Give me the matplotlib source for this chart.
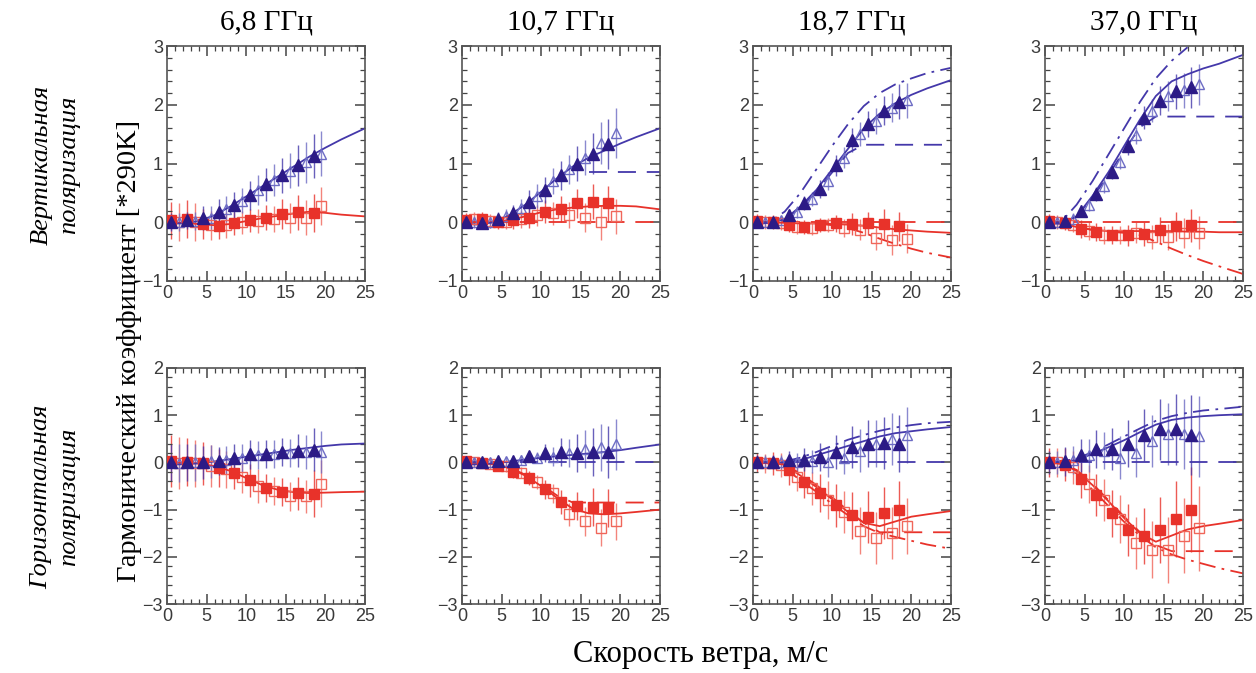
import numpy as np
import matplotlib
matplotlib.use("Agg")
import matplotlib.pyplot as plt
from matplotlib.ticker import MultipleLocator

# wind speed grids
wind_fill = [0.5, 2.5, 4.5, 6.5, 8.5, 10.5, 12.5, 14.5, 16.5, 18.5]
wind_open = [1.5, 3.5, 5.5, 7.5, 9.5, 11.5, 13.5, 15.5, 17.5, 19.5]
wind_fit = [0, 2, 4, 6, 8, 10, 12, 14, 16, 18, 20, 22, 25]
nan = np.nan

freqs = ["6,8 ГГц", "10,7 ГГц", "18,7 ГГц", "37,0 ГГц"]
row_labels = ["Вертикальная\nполяризация", "Горизонтальная\nполяризация"]

# ---- vertical polarisation ----
v68_tri = [0.0, 0.03, 0.07, 0.17, 0.30, 0.46, 0.65, 0.80, 0.97, 1.13]
v68_tri_open = [0.0, 0.02, 0.08, 0.22, 0.37, 0.55, 0.72, 0.88, 1.02, 1.17]
v68_sq = [0.03, 0.06, -0.03, -0.06, -0.02, 0.03, 0.08, 0.14, 0.17, 0.16]
v68_sq_open = [0.0, 0.0, -0.05, -0.05, 0.0, 0.02, 0.05, 0.07, 0.08, 0.28]
v68_tri_err = [0.15, 0.15, 0.2, 0.22, 0.22, 0.25, 0.28, 0.3, 0.35, 0.38]
v68_sq_err = [0.32, 0.32, 0.25, 0.22, 0.2, 0.2, 0.22, 0.25, 0.3, 0.32]
v68_blue_fit = [-0.02, -0.02, 0.02, 0.12, 0.27, 0.44, 0.61, 0.78, 0.95, 1.12, 1.27, 1.41, 1.6]
v68_red_fit = [0.0, -0.01, -0.03, -0.05, -0.03, 0.02, 0.07, 0.11, 0.15, 0.18, 0.16, 0.13, 0.1]

v107_tri = [0.0, -0.02, 0.05, 0.15, 0.35, 0.55, 0.8, 1.0, 1.17, 1.33]
v107_tri_open = [0.0, 0.0, 0.1, 0.25, 0.45, 0.7, 0.9, 1.1, 1.35, 1.52]
v107_sq = [0.03, 0.05, 0.0, 0.03, 0.08, 0.18, 0.22, 0.32, 0.35, 0.32]
v107_sq_open = [0.05, 0.02, 0.0, 0.05, 0.12, 0.15, 0.13, 0.08, 0.0, 0.1]
v107_tri_err = [0.1, 0.1, 0.12, 0.15, 0.2, 0.22, 0.25, 0.3, 0.35, 0.42]
v107_sq_err = [0.12, 0.12, 0.12, 0.15, 0.18, 0.2, 0.22, 0.25, 0.3, 0.3]
v107_blue_fit = [-0.02, -0.04, 0.0, 0.12, 0.3, 0.52, 0.75, 0.95, 1.1, 1.22, 1.34, 1.45, 1.6]
v107_blue_sat = [nan, nan, nan, nan, nan, nan, nan, nan, 0.85, 0.85, 0.85, 0.85, 0.85]
v107_red_fit = [0.0, 0.0, 0.0, 0.04, 0.1, 0.17, 0.22, 0.25, 0.27, 0.28, 0.28, 0.27, 0.22]
v107_red_sat = [0, 0, 0, 0, 0, 0, 0, 0, 0, 0, 0, 0, 0]

v187_tri = [0.0, 0.0, 0.12, 0.33, 0.57, 0.97, 1.4, 1.67, 1.9, 2.05]
v187_tri_open = [0.0, 0.03, 0.18, 0.4, 0.7, 1.1, 1.5, 1.72, 1.95, 2.08]
v187_sq = [0.02, 0.0, -0.05, -0.08, -0.05, -0.02, -0.03, -0.02, -0.03, -0.07]
v187_sq_open = [0.0, -0.02, -0.08, -0.1, -0.05, -0.1, -0.13, -0.27, -0.3, -0.28]
v187_tri_err = [0.08, 0.08, 0.1, 0.12, 0.15, 0.18, 0.2, 0.22, 0.25, 0.3]
v187_sq_err = [0.12, 0.12, 0.12, 0.12, 0.12, 0.15, 0.18, 0.2, 0.25, 0.25]
v187_blue_fit = [-0.03, -0.01, 0.05, 0.27, 0.55, 0.9, 1.25, 1.6, 1.85, 2.03, 2.17, 2.28, 2.42]
v187_blue_alt = [0.0, 0.0, 0.18, 0.5, 0.9, 1.3, 1.67, 1.98, 2.2, 2.35, 2.45, 2.54, 2.63]
v187_blue_sat = [-0.03, -0.01, 0.05, 0.25, 0.52, 0.85, 1.18, 1.32, 1.32, 1.32, 1.32, 1.32, 1.32]
v187_red_fit = [0.0, 0.0, -0.01, -0.02, -0.02, -0.03, -0.04, -0.06, -0.09, -0.12, -0.14, -0.16, -0.18]
v187_red_alt = [0.0, 0.0, -0.01, -0.01, -0.02, -0.05, -0.1, -0.18, -0.28, -0.37, -0.45, -0.52, -0.6]
v187_red_sat = [0, 0, 0, 0, 0, 0, 0, 0, 0, 0, 0, 0, 0]

v37_tri = [0.0, 0.02, 0.2, 0.48, 0.85, 1.3, 1.78, 2.07, 2.23, 2.3]
v37_tri_open = [0.0, 0.05, 0.3, 0.62, 1.02, 1.48, 1.9, 2.15, 2.25, 2.35]
v37_sq = [0.02, -0.02, -0.12, -0.17, -0.22, -0.22, -0.2, -0.13, -0.07, -0.05]
v37_sq_open = [0.0, -0.05, -0.15, -0.22, -0.22, -0.18, -0.25, -0.25, -0.18, -0.18]
v37_tri_err = [0.1, 0.1, 0.1, 0.12, 0.12, 0.15, 0.2, 0.25, 0.3, 0.35]
v37_sq_err = [0.12, 0.12, 0.15, 0.15, 0.15, 0.18, 0.2, 0.22, 0.25, 0.28]
v37_blue_fit = [-0.02, -0.02, 0.1, 0.45, 0.85, 1.3, 1.75, 2.15, 2.4, 2.52, 2.62, 2.7, 2.85]
v37_blue_alt = [0.0, 0.0, 0.3, 0.7, 1.15, 1.6, 2.05, 2.45, 2.75, 2.98, nan, nan, nan]
v37_blue_sat = [-0.02, -0.02, 0.1, 0.42, 0.8, 1.22, 1.62, 1.8, 1.8, 1.8, 1.8, 1.8, 1.8]
v37_red_fit = [0.0, -0.02, -0.08, -0.13, -0.15, -0.15, -0.15, -0.15, -0.15, -0.16, -0.16, -0.17, -0.17]
v37_red_alt = [0.0, -0.02, -0.08, -0.13, -0.16, -0.18, -0.22, -0.33, -0.45, -0.56, -0.66, -0.75, -0.88]
v37_red_sat = [0, 0, 0, 0, 0, 0, 0, 0, 0, 0, 0, 0, 0]

# ---- horizontal polarisation ----
h68_tri = [0.0, 0.0, 0.0, 0.03, 0.1, 0.17, 0.18, 0.22, 0.25, 0.27]
h68_tri_open = [-0.02, 0.0, 0.02, 0.05, 0.1, 0.15, 0.18, 0.2, 0.22, 0.22]
h68_sq = [0.03, 0.01, -0.02, -0.12, -0.22, -0.38, -0.54, -0.62, -0.65, -0.66]
h68_sq_open = [-0.02, -0.02, -0.08, -0.15, -0.3, -0.5, -0.6, -0.72, -0.72, -0.45]
h68_tri_err = [0.4, 0.4, 0.35, 0.3, 0.3, 0.3, 0.3, 0.3, 0.35, 0.45]
h68_sq_err = [0.55, 0.5, 0.45, 0.4, 0.35, 0.35, 0.3, 0.3, 0.35, 0.5]
h68_blue_fit = [-0.05, -0.04, -0.02, 0.02, 0.07, 0.12, 0.17, 0.22, 0.27, 0.31, 0.35, 0.38, 0.4]
h68_red_fit = [0.0, -0.01, -0.02, -0.08, -0.18, -0.33, -0.48, -0.58, -0.63, -0.65, -0.64, -0.63, -0.62]

h107_tri = [0.0, 0.0, 0.02, 0.04, 0.13, 0.2, 0.22, 0.2, 0.22, 0.22]
h107_tri_open = [0.0, 0.0, 0.02, 0.05, 0.1, 0.12, 0.2, 0.28, 0.32, 0.38]
h107_sq = [0.02, -0.02, -0.07, -0.2, -0.33, -0.57, -0.84, -0.92, -0.95, -0.97]
h107_sq_open = [0.0, -0.03, -0.08, -0.22, -0.42, -0.65, -1.1, -1.25, -1.38, -1.25]
h107_tri_err = [0.1, 0.1, 0.1, 0.1, 0.12, 0.2, 0.3, 0.4, 0.5, 0.55]
h107_sq_err = [0.1, 0.1, 0.12, 0.12, 0.15, 0.2, 0.25, 0.3, 0.4, 0.4]
h107_blue_fit = [-0.05, -0.04, -0.02, 0.02, 0.06, 0.1, 0.13, 0.16, 0.19, 0.22, 0.26, 0.31, 0.38]
h107_blue_sat = [0, 0, 0, 0, 0, 0, 0, 0, 0, 0, 0, 0, 0]
h107_red_fit = [0.0, -0.01, -0.04, -0.12, -0.28, -0.5, -0.75, -0.98, -1.08, -1.1, -1.08, -1.05, -1.0]
h107_red_sat = [0.0, -0.01, -0.04, -0.11, -0.26, -0.47, -0.7, -0.85, -0.85, -0.85, -0.85, -0.85, -0.85]

h187_tri = [0.0, 0.0, 0.05, 0.06, 0.12, 0.22, 0.33, 0.4, 0.42, 0.4]
h187_tri_open = [0.0, 0.0, 0.0, 0.02, 0.0, 0.1, 0.25, 0.4, 0.5, 0.58]
h187_sq = [0.0, -0.02, -0.17, -0.41, -0.65, -0.91, -1.12, -1.15, -1.08, -1.0]
h187_sq_open = [-0.02, -0.05, -0.3, -0.55, -0.8, -1.05, -1.45, -1.6, -1.5, -1.35]
h187_tri_err = [0.15, 0.15, 0.2, 0.25, 0.3, 0.35, 0.45, 0.5, 0.55, 0.6]
h187_sq_err = [0.2, 0.25, 0.3, 0.35, 0.4, 0.45, 0.5, 0.55, 0.55, 0.6]
h187_blue_fit = [0.0, 0.0, 0.0, 0.05, 0.15, 0.25, 0.35, 0.45, 0.55, 0.62, 0.66, 0.7, 0.75]
h187_blue_alt = [0.0, 0.0, 0.02, 0.1, 0.22, 0.35, 0.48, 0.58, 0.67, 0.74, 0.79, 0.83, 0.86]
h187_blue_sat = [0, 0, 0, 0, 0, 0, 0, 0, 0, 0, 0, 0, 0]
h187_red_fit = [0.0, 0.0, -0.05, -0.28, -0.52, -0.78, -1.05, -1.28, -1.35, -1.25, -1.15, -1.1, -1.03]
h187_red_alt = [0.0, -0.02, -0.12, -0.38, -0.62, -0.88, -1.12, -1.35, -1.5, -1.58, -1.66, -1.74, -1.83]
h187_red_sat = [0.0, 0.0, -0.04, -0.24, -0.48, -0.74, -1.02, -1.28, -1.48, -1.48, -1.48, -1.48, -1.48]

h37_tri = [0.0, 0.02, 0.15, 0.28, 0.28, 0.4, 0.58, 0.7, 0.7, 0.58]
h37_tri_open = [0.0, 0.05, 0.15, 0.25, 0.1, 0.2, 0.45, 0.6, 0.6, 0.55]
h37_sq = [0.0, -0.05, -0.35, -0.69, -1.08, -1.43, -1.56, -1.43, -1.2, -1.0]
h37_sq_open = [0.0, -0.1, -0.45, -0.8, -1.2, -1.7, -1.85, -1.85, -1.55, -1.4]
h37_tri_err = [0.25, 0.3, 0.35, 0.4, 0.45, 0.5, 0.55, 0.65, 0.75, 0.85]
h37_sq_err = [0.3, 0.35, 0.4, 0.45, 0.5, 0.55, 0.6, 0.7, 0.8, 0.9]
h37_blue_fit = [0.0, 0.01, 0.05, 0.18, 0.32, 0.47, 0.64, 0.8, 0.9, 0.95, 0.98, 1.0, 1.02]
h37_blue_alt = [0.0, 0.02, 0.08, 0.22, 0.38, 0.55, 0.72, 0.88, 0.98, 1.05, 1.1, 1.13, 1.18]
h37_blue_sat = [0, 0, 0, 0, 0, 0, 0, 0, 0, 0, 0, 0, 0]
h37_red_fit = [0.0, -0.02, -0.18, -0.48, -0.82, -1.18, -1.5, -1.68, -1.55, -1.42, -1.35, -1.3, -1.22]
h37_red_alt = [0.0, -0.03, -0.24, -0.58, -0.92, -1.26, -1.55, -1.8, -1.95, -2.06, -2.15, -2.24, -2.35]
h37_red_sat = [0.0, -0.02, -0.16, -0.45, -0.8, -1.15, -1.48, -1.75, -1.88, -1.88, -1.88, -1.88, -1.88]

# panel order: (tri, tri_open, sq, sq_open, tri_err, sq_err, blue lines, red lines)
panels = [
    [(v68_tri, v68_tri_open, v68_sq, v68_sq_open, v68_tri_err, v68_sq_err,
      [(v68_blue_fit, "-")], [(v68_red_fit, "-")]),
     (v107_tri, v107_tri_open, v107_sq, v107_sq_open, v107_tri_err, v107_sq_err,
      [(v107_blue_fit, "-"), (v107_blue_sat, "--")], [(v107_red_fit, "-"), (v107_red_sat, "--")]),
     (v187_tri, v187_tri_open, v187_sq, v187_sq_open, v187_tri_err, v187_sq_err,
      [(v187_blue_fit, "-"), (v187_blue_alt, "-."), (v187_blue_sat, "--")],
      [(v187_red_fit, "-"), (v187_red_alt, "-."), (v187_red_sat, "--")]),
     (v37_tri, v37_tri_open, v37_sq, v37_sq_open, v37_tri_err, v37_sq_err,
      [(v37_blue_fit, "-"), (v37_blue_alt, "-."), (v37_blue_sat, "--")],
      [(v37_red_fit, "-"), (v37_red_alt, "-."), (v37_red_sat, "--")])],
    [(h68_tri, h68_tri_open, h68_sq, h68_sq_open, h68_tri_err, h68_sq_err,
      [(h68_blue_fit, "-")], [(h68_red_fit, "-")]),
     (h107_tri, h107_tri_open, h107_sq, h107_sq_open, h107_tri_err, h107_sq_err,
      [(h107_blue_fit, "-"), (h107_blue_sat, "--")], [(h107_red_fit, "-"), (h107_red_sat, "--")]),
     (h187_tri, h187_tri_open, h187_sq, h187_sq_open, h187_tri_err, h187_sq_err,
      [(h187_blue_fit, "-"), (h187_blue_alt, "-."), (h187_blue_sat, "--")],
      [(h187_red_fit, "-"), (h187_red_alt, "-."), (h187_red_sat, "--")]),
     (h37_tri, h37_tri_open, h37_sq, h37_sq_open, h37_tri_err, h37_sq_err,
      [(h37_blue_fit, "-"), (h37_blue_alt, "-."), (h37_blue_sat, "--")],
      [(h37_red_fit, "-"), (h37_red_alt, "-."), (h37_red_sat, "--")])],
]

blue_dark = "#2c1b86"
blue_line = "#4438aa"
blue_light = "#6d6cc4"
red = "#e8322a"
red_light = "#f0665a"

serif = "Liberation Serif"
sans = "Liberation Sans"

fig = plt.figure(figsize=(12.56, 6.73), dpi=100)
lefts = [0.133, 0.3678, 0.5995, 0.832]
width = 0.1576
rows = [(0.5825, 0.349, (-1, 3)), (0.1025, 0.3507, (-3, 2))]

dash_styles = {"-": dict(linestyle="-"),
               "--": dict(linestyle=(0, (10, 6))),
               "-.": dict(linestyle=(0, (9, 3.5, 1.5, 3.5)))}

for r, (bottom, height, ylim) in enumerate(rows):
    for c in range(4):
        ax = fig.add_axes([lefts[c], bottom, width, height])
        tri, tri_o, sq, sq_o, tri_e, sq_e, blue_lines, red_lines = panels[r][c]

        # error bars
        ax.errorbar(wind_open, sq_o, yerr=sq_e, fmt="none", ecolor=red_light, elinewidth=1.0, alpha=0.8, zorder=1)
        ax.errorbar(wind_fill, sq, yerr=sq_e, fmt="none", ecolor=red, elinewidth=1.0, alpha=0.8, zorder=1)
        ax.errorbar(wind_open, tri_o, yerr=tri_e, fmt="none", ecolor=blue_light, elinewidth=1.0, alpha=0.8, zorder=1)
        ax.errorbar(wind_fill, tri, yerr=tri_e, fmt="none", ecolor=blue_line, elinewidth=1.0, alpha=0.8, zorder=1)

        # model curves
        for vals, st in red_lines:
            ax.plot(wind_fit, vals, color=red, lw=1.3, zorder=2, **dash_styles[st])
        for vals, st in blue_lines:
            ax.plot(wind_fit, vals, color=blue_line, lw=1.3, zorder=2, **dash_styles[st])

        # markers
        ax.plot(wind_open, sq_o, ls="none", marker="s", ms=6.5, mfc="none", mec=red_light, mew=1.0, zorder=3)
        ax.plot(wind_fill, sq, ls="none", marker="s", ms=7, color=red, zorder=4)
        ax.plot(wind_open, tri_o, ls="none", marker="^", ms=7, mfc="none", mec=blue_light, mew=1.0, zorder=3)
        ax.plot(wind_fill, tri, ls="none", marker="^", ms=9, color=blue_dark, zorder=4)

        ax.set_xlim(0, 25)
        ax.set_ylim(*ylim)
        ax.xaxis.set_major_locator(MultipleLocator(5))
        ax.xaxis.set_minor_locator(MultipleLocator(1))
        ax.yaxis.set_major_locator(MultipleLocator(1))
        ax.yaxis.set_minor_locator(MultipleLocator(0.2))
        ax.tick_params(which="both", direction="in", top=True, right=True, colors="#444444")
        ax.tick_params(which="major", length=7, width=1.1, labelsize=13, labelcolor="#3a3a3a", pad=3)
        ax.tick_params(which="minor", length=3.5, width=0.9)
        for lab in ax.get_xticklabels() + ax.get_yticklabels():
            lab.set_fontfamily(sans)
        for sp in ax.spines.values():
            sp.set_color("#555555")
            sp.set_linewidth(1.2)
        if r == 0:
            ax.set_title(freqs[c], fontfamily=serif, fontsize=21, pad=12)

fig.text(0.044, 0.755, row_labels[0], rotation=90, ha="center", va="center",
         fontfamily=serif, fontstyle="italic", fontsize=19, linespacing=1.35)
fig.text(0.044, 0.262, row_labels[1], rotation=90, ha="center", va="center",
         fontfamily=serif, fontstyle="italic", fontsize=19, linespacing=1.35)
fig.text(0.1035, 0.478, "Гармонический коэффициент [*290K]", rotation=90, ha="center", va="center",
         fontfamily=serif, fontsize=20.5)
fig.text(0.558, 0.027, "Скорость ветра, м/с", ha="center", va="center", fontfamily=serif, fontsize=22)

fig.savefig("out.png", dpi=100, facecolor="white")
